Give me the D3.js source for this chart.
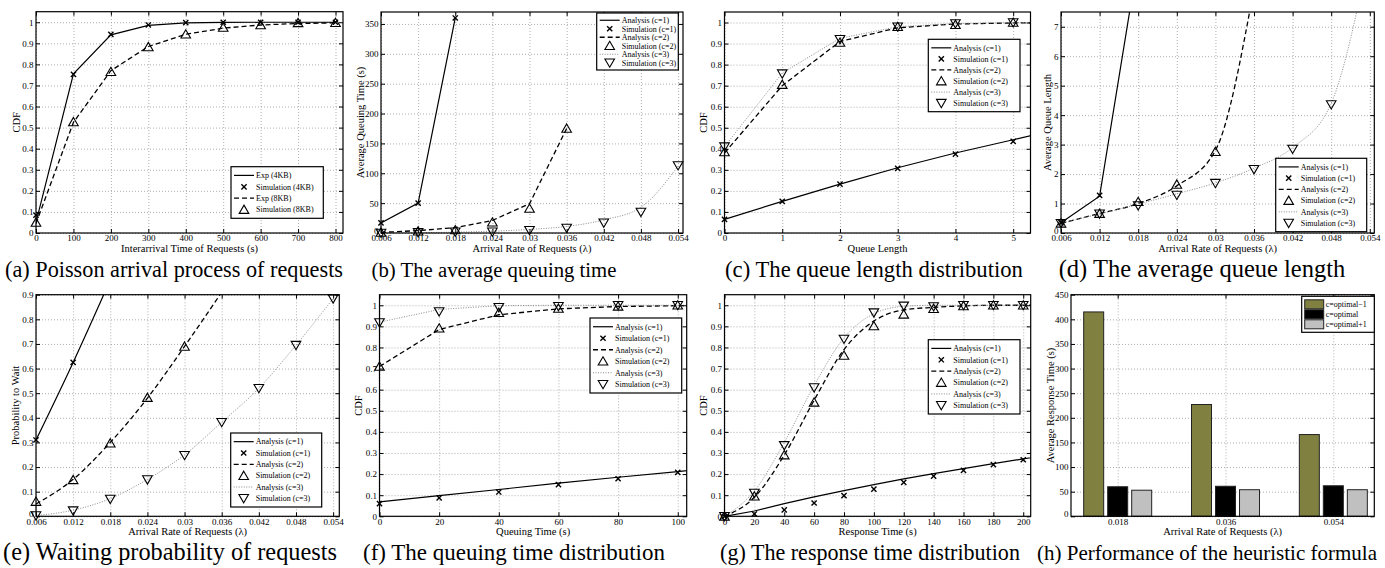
<!DOCTYPE html>
<html>
<head>
<meta charset="utf-8">
<script src="https://cdn.jsdelivr.net/npm/d3@7"></script>
<style>
  body { margin: 0; background: #fff; }
  svg { display: block; font-family: "Liberation Serif", "Times New Roman", serif; }
</style>
</head>
<body>
<script>
// ---- datos ----

// (a) Poisson arrival
const aX = [0, 100, 200, 300, 400, 500, 600, 700, 800];
const aExp4 = [0.05, 0.755, 0.94, 0.985, 0.997, 0.999, 1, 1, 1];
const aSim4 = [0.085, 0.753, 0.942, 0.987, 0.998, 1, 1, 1, 1];
const aExp8 = [0.045, 0.525, 0.77, 0.885, 0.943, 0.972, 0.987, 0.994, 0.997];
const aSim8 = [0.05, 0.527, 0.765, 0.883, 0.943, 0.975, 0.987, 0.997, 0.998];

// arrival rates
const lam = [0.006, 0.012, 0.018, 0.024, 0.03, 0.036, 0.042, 0.048, 0.054];
const lamLabels = ["0.006", "0.012", "0.018", "0.024", "0.03", "0.036", "0.042", "0.048", "0.054"];

// (b) average queuing time
const bAna1 = [17, 50, 360];
const bSim1 = [17, 50, 360];
const bAna2 = [1, 4, 9, 21, 49, 175];
const bSim2 = [1, 3, 5, 18, 41, 175];
const bAna3 = [0, 0.5, 1.5, 3, 6, 11, 22, 43, 112];
const bSim3 = [0, 1, 2, 2, 4.5, 8.4, 17, 35, 113];

// (c) queue length distribution
const cX = [0, 1, 2, 3, 4, 5, 6];
const cAna1 = [0.065, 0.15, 0.232, 0.31, 0.38, 0.443, 0.505];
const cSim1 = [0.065, 0.15, 0.232, 0.307, 0.375, 0.435];
const cAna2 = [0.38, 0.70, 0.91, 0.975, 0.993, 0.998, 1.0];
const cSim2 = [0.385, 0.705, 0.905, 0.98, 0.99, 1.0];
const cAna3 = [0.41, 0.76, 0.925, 0.98, 0.995, 1.0, 1.0];
const cSim3 = [0.41, 0.757, 0.92, 0.98, 0.995, 1.0];

// (d) average queue length
const dAna1 = [0.35, 1.25, 9.3];
const dSim1 = [0.35, 1.28];
const dAna2 = [0.33, 0.66, 1.0, 1.6, 2.8, 8.3];
const dSim2 = [0.33, 0.66, 1.06, 1.65, 2.76];
const dAna3 = [0.33, 0.65, 0.98, 1.33, 1.7, 2.2, 2.9, 4.4, 9.6];
const dSim3 = [0.33, 0.65, 0.93, 1.29, 1.69, 2.16, 2.85, 4.36];

// (e) waiting probability
const eAna1 = [0.31, 0.625, 0.96];
const eSim1 = [0.31, 0.625];
const eAna2 = [0.05, 0.15, 0.3, 0.48, 0.69, 0.91];
const eSim2 = [0.06, 0.148, 0.297, 0.482, 0.69];
const eAna3 = [0.003, 0.025, 0.072, 0.15, 0.25, 0.382, 0.52, 0.695, 0.884];
const eSim3 = [0.003, 0.023, 0.07, 0.149, 0.248, 0.382, 0.52, 0.695, 0.884];

// (f) queuing time distribution
const fX = [0, 20, 40, 60, 80, 100, 120];
const fAna1 = [0.068, 0.098, 0.127, 0.157, 0.185, 0.212, 0.24];
const fSim1 = [0.06, 0.087, 0.115, 0.15, 0.178, 0.208];
const fAna2 = [0.71, 0.885, 0.955, 0.983, 0.994, 0.998, 1];
const fSim2 = [0.71, 0.891, 0.965, 0.985, 0.995, 1];
const fAna3 = [0.92, 0.98, 0.998, 1, 1, 1, 1];
const fSim3 = [0.918, 0.97, 0.99, 0.995, 1, 1];

// (g) response time distribution
const gX = [0, 20, 40, 60, 80, 100, 120, 140, 160, 180, 200, 220];
const gAna1 = [0, 0.025, 0.06, 0.092, 0.122, 0.15, 0.177, 0.202, 0.226, 0.25, 0.272, 0.293];
const gSim1 = [0, 0.011, 0.03, 0.063, 0.098, 0.129, 0.161, 0.19, 0.218, 0.245, 0.268];
const gAna2 = [0, 0.09, 0.29, 0.55, 0.79, 0.925, 0.978, 0.99, 0.997, 1, 1, 1];
const gSim2 = [0, 0.095, 0.29, 0.54, 0.762, 0.902, 0.957, 0.984, 0.997, 1, 1];
const gAna3 = [0, 0.12, 0.35, 0.62, 0.845, 0.96, 0.995, 1, 1, 1, 1, 1];
const gSim3 = [0, 0.11, 0.336, 0.61, 0.84, 0.965, 0.997, 0.994, 1, 1, 1];

// (h) heuristic formula
const hCats = ["0.018", "0.036", "0.054"];
const hSeries = ["c=optimal\u22121", "c=optimal", "c=optimal+1"];
const hOptM1 = [415, 227, 166];
const hOpt = [60, 61, 62];
const hOptP1 = [53, 54, 54];

// tick labels
const cdfTicks = [0, 0.1, 0.2, 0.3, 0.4, 0.5, 0.6, 0.7, 0.8, 0.9, 1];
const cdfLabels = ["0", "0.1", "0.2", "0.3", "0.4", "0.5", "0.6", "0.7", "0.8", "0.9", "1"];
const probTicks = cdfTicks.slice(0, 10);
const probLabels = cdfLabels.slice(0, 10);

// ---- dibujo ----
const svg = d3.select("body").append("svg")
  .attr("width", 1385)
  .attr("height", 568);

const STYLE = {
  solid:  { stroke: "#000", w: 1.2, dash: null },
  dashed: { stroke: "#000", w: 1.3, dash: "5,3" },
  dotted: { stroke: "#8a8a8a", w: 1, dash: "1,1.5" }
};

function markerPath(t) {
  if (t === "x") return "M-2.6,-2.6L2.6,2.6M-2.6,2.6L2.6,-2.6";
  if (t === "up") return "M0,-4.5L4.8,3.8L-4.8,3.8Z";
  return "M0,4.5L4.8,-3.8L-4.8,-3.8Z";
}

function drawMarker(sel, t) {
  return sel.append("path")
    .attr("d", markerPath(t))
    .attr("fill", "none")
    .attr("stroke", "#000")
    .attr("stroke-width", t === "x" ? 1.4 : 1.1);
}

const styleText = s => s.attr("font-family", "Liberation Serif").attr("font-size", 9).attr("fill", "#000");

function axesFrame(p, x, y) {
  const g = svg.append("g");
  const w = p.x1 - p.x0, h = p.y1 - p.y0;
  const gridStyle = s => {
    s.select(".domain").remove();
    s.selectAll("line").attr("stroke", "#9a9a9a").attr("stroke-dasharray", "1,2").attr("stroke-width", 0.8);
  };
  // grid
  g.append("g").attr("transform", `translate(0,${p.y1})`)
    .call(d3.axisBottom(x).tickValues(p.xTicks).tickSize(-h).tickFormat(""))
    .call(gridStyle);
  g.append("g").attr("transform", `translate(${p.x0},0)`)
    .call(d3.axisLeft(y).tickValues(p.yTicks).tickSize(-w).tickFormat(""))
    .call(gridStyle);
  return g;
}

function axesTicks(p, x, y) {
  const g = svg.append("g");
  const tickStyle = s => {
    s.select(".domain").remove();
    s.selectAll("line").attr("stroke", "#000").attr("stroke-width", 1);
    s.selectAll("text").call(styleText);
  };
  const xl = p.xLabels, yl = p.yLabels;
  g.append("g").attr("transform", `translate(0,${p.y1})`)
    .call(d3.axisBottom(x).tickValues(p.xTicks).tickSize(-4).tickPadding(2).tickFormat((d, i) => xl[i]))
    .call(tickStyle);
  g.append("g").attr("transform", `translate(0,${p.y0})`)
    .call(d3.axisTop(x).tickValues(p.xTicks).tickSize(-4).tickFormat(""))
    .call(tickStyle);
  const yAx = g.append("g").attr("transform", `translate(${p.x0},0)`)
    .call(d3.axisLeft(y).tickValues(p.yTicks).tickSize(-4).tickPadding(2.5).tickFormat((d, i) => yl[i]))
    .call(tickStyle);
  // el "0" del eje y sube un poco cuando el eje x no empieza en 0
  if (p.xTicks[0] !== 0) {
    yAx.selectAll(".tick").filter(d => d === 0).select("text").attr("y", -2.5);
  }
  g.append("g").attr("transform", `translate(${p.x1},0)`)
    .call(d3.axisRight(y).tickValues(p.yTicks).tickSize(-4).tickFormat(""))
    .call(tickStyle);

  g.append("rect")
    .attr("x", p.x0).attr("y", p.y0)
    .attr("width", p.x1 - p.x0).attr("height", p.y1 - p.y0)
    .attr("fill", "none").attr("stroke", "#000").attr("stroke-width", 1.2);

  // titulos de ejes
  g.append("text")
    .attr("x", (p.x0 + p.x1) / 2).attr("y", p.y1 + 18.5)
    .attr("text-anchor", "middle").attr("font-size", 10.5)
    .text(p.xTitle);
  g.append("text")
    .attr("transform", `translate(${p.yTitleX},${(p.y0 + p.y1) / 2}) rotate(-90)`)
    .attr("text-anchor", "middle").attr("font-size", 10.5)
    .text(p.yTitle);

  // caption: tamaño ajustado al ancho que ocupa en la figura
  const cap = svg.append("text")
    .attr("x", p.capX).attr("y", p.capY)
    .attr("text-anchor", "middle").attr("font-size", 22)
    .text(p.caption);
  const natural = cap.node().getComputedTextLength();
  const fs = Math.max(20.5, Math.min(24.5, 22 * p.capW / natural));
  cap.attr("font-size", fs.toFixed(2));
}

function legend(box, items) {
  const [lx, ly, lw, lh] = box;
  const g = svg.append("g");
  g.append("rect").attr("x", lx).attr("y", ly).attr("width", lw).attr("height", lh)
    .attr("fill", "#fff").attr("stroke", "#000").attr("stroke-width", 1.2);
  const pitch = (lh - 6) / items.length;
  items.forEach((it, i) => {
    const cy = ly + 3 + pitch * (i + 0.5);
    if (it.line) {
      const st = STYLE[it.line];
      g.append("line").attr("x1", lx + 3).attr("x2", lx + 23).attr("y1", cy).attr("y2", cy)
        .attr("stroke", st.stroke).attr("stroke-width", st.w).attr("stroke-dasharray", st.dash);
    }
    if (it.marker) drawMarker(g.append("g").attr("transform", `translate(${lx + 13},${cy})`), it.marker);
    if (it.fill) {
      g.append("rect").attr("x", lx + 3).attr("y", cy - 4.5).attr("width", 19).attr("height", 9)
        .attr("fill", it.fill).attr("stroke", "#222").attr("stroke-width", 1);
    }
    g.append("text").attr("x", lx + (it.fill ? 24 : 25)).attr("y", cy + 2.8)
      .attr("font-size", 8).text(it.label);
  });
}

function linePanel(p) {
  const x = d3.scaleLinear().domain(p.xDomain).range([p.x0, p.x1]);
  const y = d3.scaleLinear().domain(p.yDomain).range([p.y1, p.y0]);
  axesFrame(p, x, y);

  svg.append("clipPath").attr("id", "clip-" + p.id)
    .append("rect").attr("x", p.x0).attr("y", p.y0)
    .attr("width", p.x1 - p.x0).attr("height", p.y1 - p.y0);

  const g = svg.append("g");
  p.series.filter(s => s.line).forEach(s => {
    const st = STYLE[s.line];
    const pts = s.ys.map((v, i) => [s.xs[i], v]);
    const gen = d3.line().x(d => x(d[0])).y(d => y(d[1])).curve(s.curve || d3.curveLinear);
    g.append("path")
      .attr("clip-path", `url(#clip-${p.id})`)
      .attr("d", gen(pts))
      .attr("fill", "none").attr("stroke", st.stroke)
      .attr("stroke-width", st.w).attr("stroke-dasharray", st.dash);
  });
  p.series.filter(s => s.marker).forEach(s => {
    const pts = s.ys.map((v, i) => [s.xs[i], v])
      .filter(d => d[1] <= p.yDomain[1] && d[0] <= p.xDomain[1]);
    pts.forEach(d => drawMarker(g.append("g").attr("transform", `translate(${x(d[0])},${y(d[1])})`), s.marker));
  });

  axesTicks(p, x, y);
  legend(p.legendBox, p.legend);
}

const legend3 = [
  { label: "Analysis (c=1)", line: "solid" },
  { label: "Simulation (c=1)", marker: "x" },
  { label: "Analysis (c=2)", line: "dashed" },
  { label: "Simulation (c=2)", marker: "up" },
  { label: "Analysis (c=3)", line: "dotted" },
  { label: "Simulation (c=3)", marker: "down" }
];

const mono = d3.curveMonotoneX;
const L = n => lam.slice(0, n);

// (a)
linePanel({
  id: "a", x0: 36, x1: 343, y0: 11.7, y1: 233,
  xDomain: [0, 820], yDomain: [0, 1.05],
  xTicks: aX, xLabels: aX.map(String), yTicks: cdfTicks, yLabels: cdfLabels,
  xTitle: "Interarrival Time of Requests (s)", yTitle: "CDF", yTitleX: 19.5,
  caption: "(a) Poisson arrival process of requests", capX: 174, capY: 276.5, capW: 338,
  series: [
    { xs: aX, ys: aExp4, line: "solid" },
    { xs: aX, ys: aExp8, line: "dashed" },
    { xs: aX, ys: aSim4, marker: "x" },
    { xs: aX, ys: aSim8, marker: "up" }
  ],
  legendBox: [231, 166.7, 92.3, 51.6],
  legend: [
    { label: "Exp (4KB)", line: "solid" },
    { label: "Simulation (4KB)", marker: "x" },
    { label: "Exp (8KB)", line: "dashed" },
    { label: "Simulation (8KB)", marker: "up" }
  ]
});

// (b)
linePanel({
  id: "b", x0: 381, x1: 683, y0: 12, y1: 233,
  xDomain: [0.006, 0.0548], yDomain: [0, 370],
  xTicks: lam, xLabels: lamLabels,
  yTicks: [0, 50, 100, 150, 200, 250, 300, 350], yLabels: ["0", "50", "100", "150", "200", "250", "300", "350"],
  xTitle: "Arrival Rate of Requests (\u03bb)", yTitle: "Average Queuing Time (s)", yTitleX: 363.5,
  caption: "(b) The average queuing time", capX: 494, capY: 276.5, capW: 245,
  series: [
    { xs: L(3), ys: bAna1, line: "solid" },
    { xs: L(6), ys: bAna2, line: "dashed" },
    { xs: L(9), ys: bAna3, line: "dotted", curve: mono },
    { xs: L(3), ys: bSim1, marker: "x" },
    { xs: L(6), ys: bSim2, marker: "up" },
    { xs: L(9), ys: bSim3, marker: "down" }
  ],
  legendBox: [596.7, 13, 81.6, 57],
  legend: legend3
});

// (c)
linePanel({
  id: "c", x0: 724.5, x1: 1030.5, y0: 12, y1: 233,
  xDomain: [0, 5.3], yDomain: [0, 1.05],
  xTicks: [0, 1, 2, 3, 4, 5], xLabels: ["0", "1", "2", "3", "4", "5"], yTicks: cdfTicks, yLabels: cdfLabels,
  xTitle: "Queue Length", yTitle: "CDF", yTitleX: 707,
  caption: "(c) The queue length distribution", capX: 874, capY: 276.5, capW: 298,
  series: [
    { xs: cX, ys: cAna1, line: "solid" },
    { xs: cX, ys: cAna2, line: "dashed" },
    { xs: cX, ys: cAna3, line: "dotted" },
    { xs: cX, ys: cSim1, marker: "x" },
    { xs: cX, ys: cSim2, marker: "up" },
    { xs: cX, ys: cSim3, marker: "down" }
  ],
  legendBox: [928.3, 39.3, 91.7, 72.4],
  legend: legend3
});

// (d)
linePanel({
  id: "d", x0: 1061, x1: 1374.3, y0: 12, y1: 233,
  xDomain: [0.006, 0.0547], yDomain: [0, 7.5],
  xTicks: lam, xLabels: lamLabels,
  yTicks: [0, 1, 2, 3, 4, 5, 6, 7], yLabels: ["0", "1", "2", "3", "4", "5", "6", "7"],
  xTitle: "Arrival Rate of Requests (\u03bb)", yTitle: "Average Queue Length", yTitleX: 1051,
  caption: "(d) The average queue length", capX: 1202, capY: 276.5, capW: 295,
  series: [
    { xs: L(3), ys: dAna1, line: "solid" },
    { xs: L(6), ys: dAna2, line: "dashed", curve: mono },
    { xs: L(9), ys: dAna3, line: "dotted", curve: mono },
    { xs: L(2), ys: dSim1, marker: "x" },
    { xs: L(5), ys: dSim2, marker: "up" },
    { xs: L(8), ys: dSim3, marker: "down" }
  ],
  legendBox: [1275.7, 158.3, 91, 73.4],
  legend: legend3
});

// (e)
linePanel({
  id: "e", x0: 36, x1: 339.3, y0: 294.7, y1: 516.3,
  xDomain: [0.006, 0.055], yDomain: [0, 0.9],
  xTicks: lam, xLabels: lamLabels, yTicks: probTicks, yLabels: probLabels,
  xTitle: "Arrival Rate of Requests (\u03bb)", yTitle: "Probability to Wait", yTitleX: 18.5,
  caption: "(e) Waiting probability of requests", capX: 170, capY: 559.5, capW: 334,
  series: [
    { xs: L(3), ys: eAna1, line: "solid", curve: mono },
    { xs: L(6), ys: eAna2, line: "dashed", curve: mono },
    { xs: L(9), ys: eAna3, line: "dotted", curve: mono },
    { xs: L(2), ys: eSim1, marker: "x" },
    { xs: L(5), ys: eSim2, marker: "up" },
    { xs: L(9), ys: eSim3, marker: "down" }
  ],
  legendBox: [230.7, 433, 91, 74],
  legend: legend3
});

// (f)
linePanel({
  id: "f", x0: 379.5, x1: 686.7, y0: 294.7, y1: 516.3,
  xDomain: [0, 103], yDomain: [0, 1.05],
  xTicks: [0, 20, 40, 60, 80, 100], xLabels: ["0", "20", "40", "60", "80", "100"], yTicks: cdfTicks, yLabels: cdfLabels,
  xTitle: "Queuing Time (s)", yTitle: "CDF", yTitleX: 361.5,
  caption: "(f) The queuing time distribution", capX: 514, capY: 559.5, capW: 302,
  series: [
    { xs: fX, ys: fAna1, line: "solid" },
    { xs: fX, ys: fAna2, line: "dashed" },
    { xs: fX, ys: fAna3, line: "dotted" },
    { xs: fX, ys: fSim1, marker: "x" },
    { xs: fX, ys: fSim2, marker: "up" },
    { xs: fX, ys: fSim3, marker: "down" }
  ],
  legendBox: [590, 318, 91.7, 75],
  legend: legend3
});

// (g)
linePanel({
  id: "g", x0: 724.5, x1: 1030.7, y0: 294.7, y1: 516.3,
  xDomain: [0, 205], yDomain: [0, 1.05],
  xTicks: gX.slice(0, 11), xLabels: gX.slice(0, 11).map(String), yTicks: cdfTicks, yLabels: cdfLabels,
  xTitle: "Response Time (s)", yTitle: "CDF", yTitleX: 707,
  caption: "(g) The response time distribution", capX: 870, capY: 559.5, capW: 300,
  series: [
    { xs: gX, ys: gAna1, line: "solid" },
    { xs: gX, ys: gAna2, line: "dashed", curve: mono },
    { xs: gX, ys: gAna3, line: "dotted", curve: mono },
    { xs: gX, ys: gSim1, marker: "x" },
    { xs: gX, ys: gSim2, marker: "up" },
    { xs: gX, ys: gSim3, marker: "down" }
  ],
  legendBox: [928.3, 339.7, 91.7, 74.3],
  legend: legend3
});

// (h) barras agrupadas
(function () {
  const p = {
    id: "h", x0: 1071, x1: 1374.3, y0: 294.7, y1: 516.3,
    xTicks: [1, 2, 3], xLabels: hCats,
    yTicks: d3.range(0, 451, 50), yLabels: d3.range(0, 451, 50).map(String),
    xTitle: "Arrival Rate of Requests (\u03bb)", yTitle: "Average Response Time (s)", yTitleX: 1053.5,
    caption: "(h) Performance of the heuristic formula", capX: 1207, capY: 559.5, capW: 340
  };
  const x = d3.scaleLinear().domain([0.567, 3.38]).range([p.x0, p.x1]);
  const y = d3.scaleLinear().domain([0, 450]).range([p.y1, p.y0]);
  axesFrame(p, x, y);

  const colors = ["#808040", "#000000", "#c0c0c0"];
  const values = [hOptM1, hOpt, hOptP1];
  const sub = d3.scaleBand().domain([0, 1, 2]).range([-34, 34]).paddingInner(0.167);

  const g = svg.append("g");
  values.forEach((vals, j) => {
    g.selectAll(null).data(vals).join("rect")
      .attr("x", (d, i) => x(i + 1) + sub(j))
      .attr("y", d => y(d))
      .attr("width", sub.bandwidth())
      .attr("height", d => y(0) - y(d))
      .attr("fill", colors[j])
      .attr("stroke", "#222").attr("stroke-width", 1);
  });

  axesTicks(p, x, y);
  legend([1301.7, 296.3, 72.6, 36], hSeries.map((s, j) => ({ label: s, fill: colors[j] })));
})();
</script>
</body>
</html>
